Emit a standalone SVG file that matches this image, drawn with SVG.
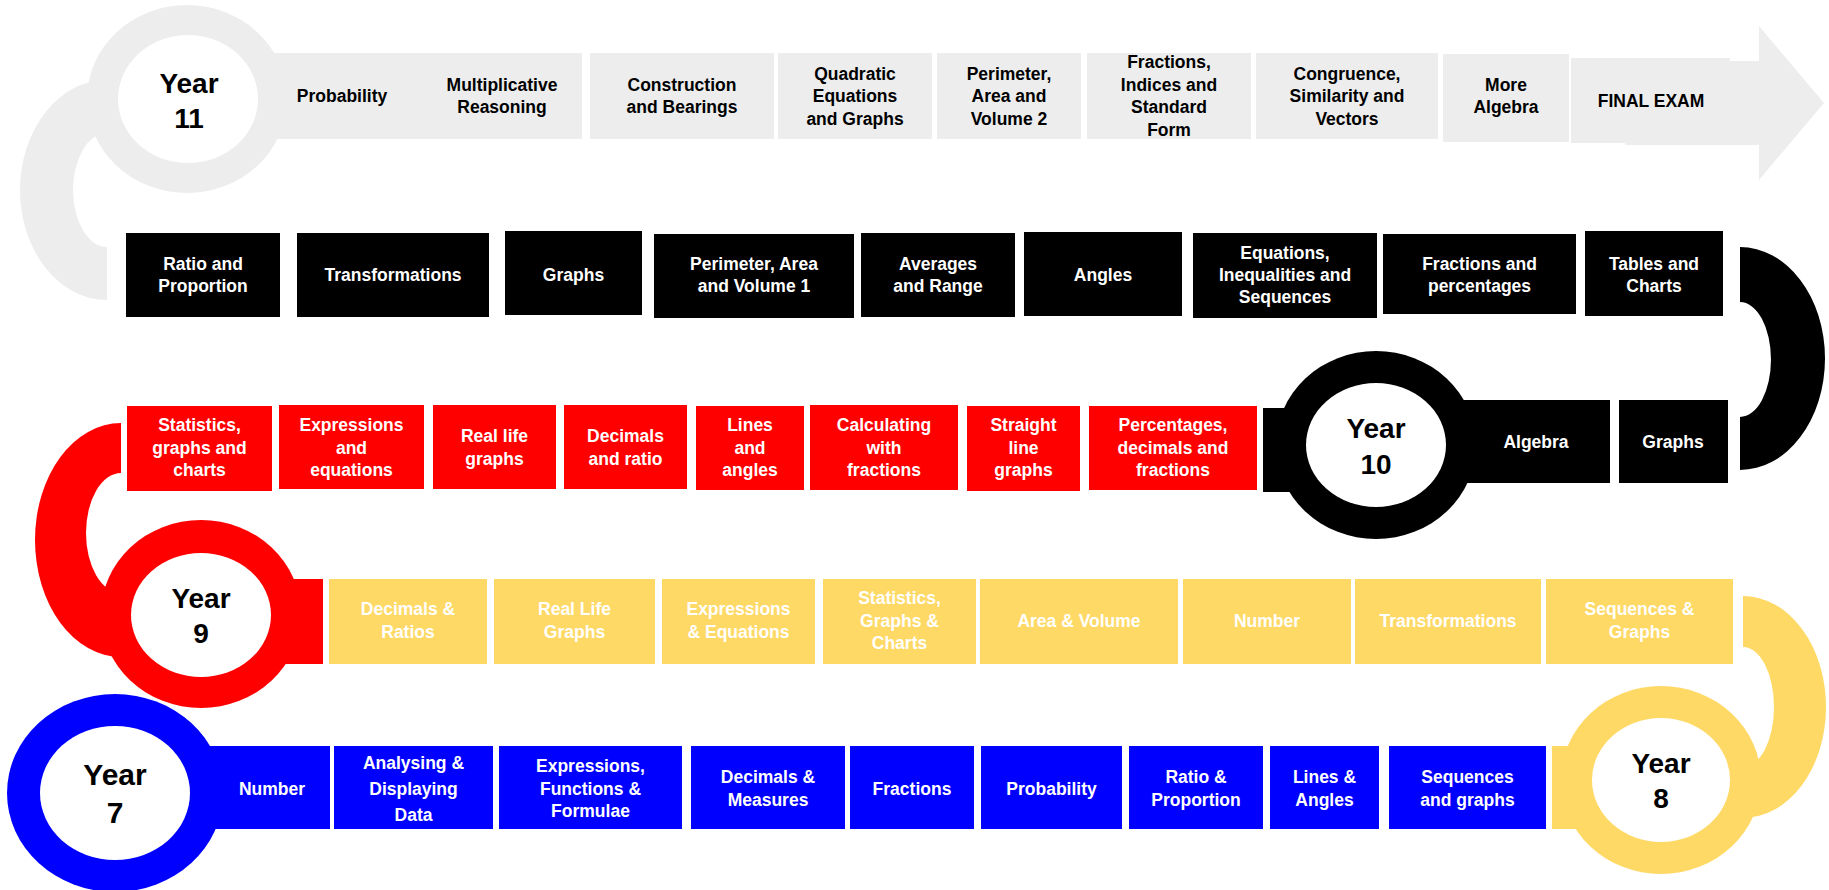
<svg xmlns="http://www.w3.org/2000/svg" width="1829" height="890" viewBox="0 0 1829 890">
<style>
.t{font-family:"Liberation Sans",Arial,sans-serif;font-weight:bold;font-size:17.5px;text-anchor:middle}
.w{fill:#fff}.k{fill:#000}
.yr{font-family:"Liberation Sans",Arial,sans-serif;font-weight:bold;font-size:28px;text-anchor:middle;fill:#000}
.g{fill:#ededed}.b{fill:#000}.r{fill:#ff0000}.y{fill:#ffd966}.u{fill:#0000ff}
.in{fill:#fff}
</style>
<rect width="1829" height="890" fill="#fff"/>
<g id="connectors">
<path class="g" d="M107,80 A87,110 0 0 0 107,300 L107,247 A34,57 0 0 1 107,133 Z"/>
<path class="b" d="M1740,247 A85,111.5 0 0 1 1740,470 L1740,417 A31,57.5 0 0 0 1740,302 Z"/>
<path class="r" d="M121,423 A86,117 0 0 0 121,657 L121,593 A35,60 0 0 1 121,473 Z"/>
<path class="y" d="M1743,596 A83,111 0 0 1 1743,818 L1743,767 A31,60 0 0 0 1743,647 Z"/>
</g>

<!-- Year 11 row -->
<g id="year11">
<rect class="g" x="187" y="53" width="395" height="86"/>
<ellipse class="g" cx="187" cy="99" rx="100" ry="94"/>
<ellipse class="in" cx="188" cy="99" rx="70" ry="64"/>
<text class="yr" x="189"><tspan x="189" y="93">Year</tspan><tspan x="189" y="128">11</tspan></text>
</g>
<g id="y11-probability"><text class="t k" x="342" y="102">Probability</text></g>
<g id="y11-multiplicative"><text class="t k"><tspan x="502" y="91">Multiplicative</tspan><tspan x="502" y="113">Reasoning</tspan></text></g>
<g id="y11-construction"><rect class="g" x="590" y="53" width="184" height="86"/><text class="t k"><tspan x="682" y="91">Construction</tspan><tspan x="682" y="113">and Bearings</tspan></text></g>
<g id="y11-quadratic"><rect class="g" x="778" y="53" width="154" height="86"/><text class="t k"><tspan x="855" y="79.5">Quadratic</tspan><tspan x="855" y="102">Equations</tspan><tspan x="855" y="124.5">and Graphs</tspan></text></g>
<g id="y11-perimeter"><rect class="g" x="937" y="53" width="144" height="86"/><text class="t k"><tspan x="1009" y="79.5">Perimeter,</tspan><tspan x="1009" y="102">Area and</tspan><tspan x="1009" y="124.5">Volume 2</tspan></text></g>
<g id="y11-fractions"><rect class="g" x="1087" y="53" width="164" height="86"/><text class="t k"><tspan x="1169" y="68">Fractions,</tspan><tspan x="1169" y="90.5">Indices and</tspan><tspan x="1169" y="113">Standard</tspan><tspan x="1169" y="135.5">Form</tspan></text></g>
<g id="y11-congruence"><rect class="g" x="1256" y="53" width="182" height="86"/><text class="t k"><tspan x="1347" y="79.5">Congruence,</tspan><tspan x="1347" y="102">Similarity and</tspan><tspan x="1347" y="124.5">Vectors</tspan></text></g>
<g id="y11-morealgebra"><rect class="g" x="1443" y="54" width="126" height="88"/><text class="t k"><tspan x="1506" y="91">More</tspan><tspan x="1506" y="113">Algebra</tspan></text></g>
<g id="y11-finalexam"><polygon class="g" points="1571,58 1730,58 1730,61 1759,61 1759,26 1824,103 1759,180 1759,145 1625,145 1625,143 1571,143"/><text class="t k" x="1651" y="107">FINAL EXAM</text></g>

<!-- Year 10 row -->
<g id="y10-ratio"><rect class="b" x="126" y="233" width="154" height="84"/><text class="t w"><tspan x="203" y="269.5">Ratio and</tspan><tspan x="203" y="291.5">Proportion</tspan></text></g>
<g id="y10-transformations"><rect class="b" x="297" y="233" width="192" height="84"/><text class="t w" x="393" y="280.5">Transformations</text></g>
<g id="y10-graphs"><rect class="b" x="505" y="231" width="137" height="84"/><text class="t w" x="573.5" y="280.5">Graphs</text></g>
<g id="y10-perimeter"><rect class="b" x="654" y="234" width="200" height="84"/><text class="t w"><tspan x="754" y="269.5">Perimeter, Area</tspan><tspan x="754" y="291.5">and Volume 1</tspan></text></g>
<g id="y10-averages"><rect class="b" x="861" y="233" width="154" height="84"/><text class="t w"><tspan x="938" y="269.5">Averages</tspan><tspan x="938" y="291.5">and Range</tspan></text></g>
<g id="y10-angles"><rect class="b" x="1024" y="232" width="158" height="84"/><text class="t w" x="1103" y="280.5">Angles</text></g>
<g id="y10-equations"><rect class="b" x="1193" y="233" width="184" height="85"/><text class="t w"><tspan x="1285" y="258.5">Equations,</tspan><tspan x="1285" y="280.5">Inequalities and</tspan><tspan x="1285" y="302.5">Sequences</tspan></text></g>
<g id="y10-fractions"><rect class="b" x="1383" y="234" width="193" height="80"/><text class="t w"><tspan x="1479.5" y="269.5">Fractions and</tspan><tspan x="1479.5" y="291.5">percentages</tspan></text></g>
<g id="y10-tables"><rect class="b" x="1585" y="231" width="138" height="85"/><text class="t w"><tspan x="1654" y="269.5">Tables and</tspan><tspan x="1654" y="291.5">Charts</tspan></text></g>
<g id="year10">
<rect class="b" x="1263" y="408" width="113" height="84"/>
<rect class="b" x="1376" y="400" width="234" height="83"/>
<ellipse class="b" cx="1376" cy="445" rx="100" ry="94"/>
<ellipse class="in" cx="1376" cy="445" rx="70" ry="62"/>
<text class="yr"><tspan x="1376" y="438">Year</tspan><tspan x="1376" y="474">10</tspan></text>
<text class="t w" x="1536" y="447.5">Algebra</text>
</g>
<g id="y10-graphs2"><rect class="b" x="1619" y="400" width="109" height="83"/><text class="t w" x="1673" y="447.5">Graphs</text></g>

<!-- Year 9 row -->
<g id="y9-statistics"><rect class="r" x="127" y="406" width="145" height="85"/><text class="t w"><tspan x="199.5" y="431">Statistics,</tspan><tspan x="199.5" y="453.5">graphs and</tspan><tspan x="199.5" y="476">charts</tspan></text></g>
<g id="y9-expressions"><rect class="r" x="279" y="405" width="145" height="84"/><text class="t w"><tspan x="351.5" y="431">Expressions</tspan><tspan x="351.5" y="453.5">and</tspan><tspan x="351.5" y="476">equations</tspan></text></g>
<g id="y9-reallife"><rect class="r" x="433" y="405" width="123" height="84"/><text class="t w"><tspan x="494.5" y="442">Real life</tspan><tspan x="494.5" y="464.5">graphs</tspan></text></g>
<g id="y9-decimals"><rect class="r" x="564" y="405" width="123" height="84"/><text class="t w"><tspan x="625.5" y="442">Decimals</tspan><tspan x="625.5" y="464.5">and ratio</tspan></text></g>
<g id="y9-lines"><rect class="r" x="696" y="406" width="108" height="84"/><text class="t w"><tspan x="750" y="431">Lines</tspan><tspan x="750" y="453.5">and</tspan><tspan x="750" y="476">angles</tspan></text></g>
<g id="y9-calculating"><rect class="r" x="810" y="405" width="148" height="85"/><text class="t w"><tspan x="884" y="431">Calculating</tspan><tspan x="884" y="453.5">with</tspan><tspan x="884" y="476">fractions</tspan></text></g>
<g id="y9-straight"><rect class="r" x="967" y="406" width="113" height="85"/><text class="t w"><tspan x="1023.5" y="431">Straight</tspan><tspan x="1023.5" y="453.5">line</tspan><tspan x="1023.5" y="476">graphs</tspan></text></g>
<g id="y9-percentages"><rect class="r" x="1089" y="406" width="168" height="84"/><text class="t w"><tspan x="1173" y="431">Percentages,</tspan><tspan x="1173" y="453.5">decimals and</tspan><tspan x="1173" y="476">fractions</tspan></text></g>

<!-- Year 7 -->
<g id="year7">
<rect class="u" x="115" y="746" width="215" height="83"/>
<ellipse class="u" cx="115" cy="793" rx="108" ry="99"/>
<ellipse class="in" cx="115" cy="793" rx="75" ry="67"/>
<text class="yr" style="font-size:30px"><tspan x="115" y="785">Year</tspan><tspan x="115" y="823">7</tspan></text>
<text class="t w" x="272" y="794.5">Number</text>
</g>

<g id="year9">
<rect class="r" x="201" y="579" width="122" height="85"/>
<ellipse class="r" cx="201" cy="614" rx="100" ry="94"/>
<ellipse class="in" cx="201" cy="615" rx="70" ry="62"/>
<text class="yr"><tspan x="201" y="608">Year</tspan><tspan x="201" y="643">9</tspan></text>
</g>

<!-- Year 8 row (yellow) -->
<g id="y8-decimals"><rect class="y" x="329" y="579" width="158" height="85"/><text class="t w"><tspan x="408" y="615">Decimals &amp;</tspan><tspan x="408" y="637.5">Ratios</tspan></text></g>
<g id="y8-reallife"><rect class="y" x="494" y="579" width="161" height="85"/><text class="t w"><tspan x="574.5" y="615">Real Life</tspan><tspan x="574.5" y="637.5">Graphs</tspan></text></g>
<g id="y8-expressions"><rect class="y" x="662" y="579" width="153" height="85"/><text class="t w"><tspan x="738.5" y="615">Expressions</tspan><tspan x="738.5" y="637.5">&amp; Equations</tspan></text></g>
<g id="y8-statistics"><rect class="y" x="823" y="579" width="153" height="85"/><text class="t w"><tspan x="899.5" y="604">Statistics,</tspan><tspan x="899.5" y="626.5">Graphs &amp;</tspan><tspan x="899.5" y="649">Charts</tspan></text></g>
<g id="y8-area"><rect class="y" x="980" y="579" width="198" height="85"/><text class="t w" x="1079" y="626.5">Area &amp; Volume</text></g>
<g id="y8-number"><rect class="y" x="1183" y="579" width="168" height="85"/><text class="t w" x="1267" y="626.5">Number</text></g>
<g id="y8-transformations"><rect class="y" x="1355" y="579" width="186" height="85"/><text class="t w" x="1448" y="626.5">Transformations</text></g>
<g id="y8-sequences"><rect class="y" x="1546" y="579" width="187" height="85"/><text class="t w"><tspan x="1639.5" y="615">Sequences &amp;</tspan><tspan x="1639.5" y="637.5">Graphs</tspan></text></g>
<g id="year8">
<rect class="y" x="1552" y="746" width="109" height="83"/>
<ellipse class="y" cx="1661" cy="780" rx="100" ry="94"/>
<ellipse class="in" cx="1661" cy="780" rx="69" ry="62"/>
<text class="yr"><tspan x="1661" y="773">Year</tspan><tspan x="1661" y="808">8</tspan></text>
</g>

<!-- Year 7 row (blue) -->
<g id="y7-analysing"><rect class="u" x="334" y="746" width="159" height="83"/><text class="t w"><tspan x="413.5" y="768.5">Analysing &amp;</tspan><tspan x="413.5" y="794.5">Displaying</tspan><tspan x="413.5" y="820.5">Data</tspan></text></g>
<g id="y7-expressions"><rect class="u" x="499" y="746" width="183" height="83"/><text class="t w"><tspan x="590.5" y="772">Expressions,</tspan><tspan x="590.5" y="794.5">Functions &amp;</tspan><tspan x="590.5" y="817">Formulae</tspan></text></g>
<g id="y7-decimals"><rect class="u" x="691" y="746" width="154" height="83"/><text class="t w"><tspan x="768" y="783">Decimals &amp;</tspan><tspan x="768" y="805.5">Measures</tspan></text></g>
<g id="y7-fractions"><rect class="u" x="850" y="746" width="124" height="83"/><text class="t w" x="912" y="794.5">Fractions</text></g>
<g id="y7-probability"><rect class="u" x="981" y="746" width="141" height="83"/><text class="t w" x="1051.5" y="794.5">Probability</text></g>
<g id="y7-ratio"><rect class="u" x="1129" y="746" width="134" height="83"/><text class="t w"><tspan x="1196" y="783">Ratio &amp;</tspan><tspan x="1196" y="805.5">Proportion</tspan></text></g>
<g id="y7-lines"><rect class="u" x="1270" y="746" width="109" height="83"/><text class="t w"><tspan x="1324.5" y="783">Lines &amp;</tspan><tspan x="1324.5" y="805.5">Angles</tspan></text></g>
<g id="y7-sequences"><rect class="u" x="1389" y="746" width="157" height="83"/><text class="t w"><tspan x="1467.5" y="783">Sequences</tspan><tspan x="1467.5" y="805.5">and graphs</tspan></text></g>
</svg>
